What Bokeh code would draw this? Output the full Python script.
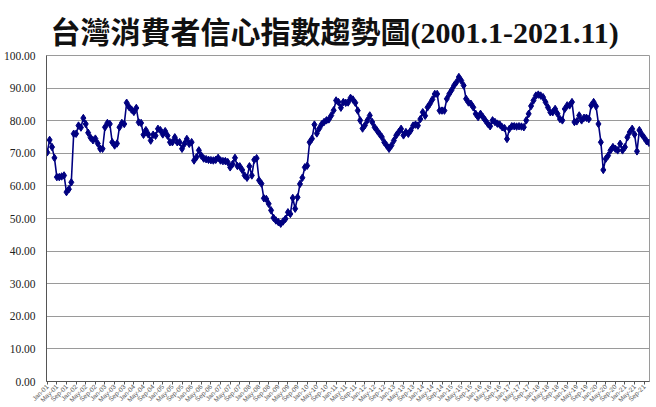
from bokeh.plotting import figure
from bokeh.models import Range1d, FixedTicker, PrintfTickFormatter, ColumnDataSource
from bokeh.embed import file_html
from bokeh.resources import INLINE

title_text = "台灣消費者信心指數趨勢圖(2001.1-2021.11)"

month_abbr = ["Jan", "Feb", "Mar", "Apr", "May", "Jun",
              "Jul", "Aug", "Sep", "Oct", "Nov", "Dec"]
years = list(range(2001, 2022))

cci_2001 = [70.3, 74.1, 71.9, 68.6, 62.7, 62.7, 62.9, 63.2, 58.1, 59.0, 61.1, 76.0]
cci_2002 = [76.0, 78.5, 77.9, 80.8, 79.0, 76.3, 74.8, 74.0, 74.5, 73.0, 71.4, 71.4]
cci_2003 = [78.0, 79.3, 79.0, 73.4, 72.4, 73.0, 78.0, 79.3, 79.0, 85.5, 84.2, 83.4]
cci_2004 = [82.7, 83.9, 79.5, 79.3, 75.7, 77.1, 75.8, 73.9, 75.7, 75.4, 77.5, 77.1]
cci_2005 = [75.8, 76.8, 75.4, 73.4, 73.4, 74.9, 73.4, 73.4, 71.4, 72.9, 74.4, 72.9]
cci_2006 = [73.4, 67.8, 68.8, 70.9, 69.3, 68.4, 68.2, 68.0, 67.9, 67.8, 68.0, 68.6]
cci_2007 = [67.8, 67.6, 67.6, 67.3, 65.7, 66.7, 68.6, 66.1, 66.0, 64.9, 63.2, 62.5]
cci_2008 = [66.0, 63.2, 68.0, 68.5, 61.7, 60.7, 56.2, 56.0, 54.5, 52.5, 50.2, 49.4]
cci_2009 = [48.9, 48.4, 49.1, 49.9, 51.9, 51.4, 56.3, 53.0, 56.5, 60.6, 62.5, 65.7]
cci_2010 = [66.2, 73.4, 74.5, 78.8, 76.1, 77.6, 78.9, 79.6, 80.1, 80.4, 81.6, 83.2]
cci_2011 = [86.2, 85.7, 84.0, 85.7, 85.5, 85.6, 87.0, 86.5, 85.5, 83.1, 80.1, 77.6]
cci_2012 = [78.6, 80.1, 81.6, 79.6, 78.0, 77.0, 76.0, 75.0, 73.4, 72.4, 71.4, 72.4]
cci_2013 = [73.9, 75.5, 76.5, 77.5, 75.5, 76.5, 76.0, 77.0, 78.5, 78.8, 78.5, 80.5]
cci_2014 = [82.6, 81.5, 84.1, 85.2, 86.5, 88.2, 88.2, 83.1, 83.1, 83.1, 86.7, 88.2]
cci_2015 = [89.4, 90.8, 91.8, 93.4, 92.3, 90.8, 86.7, 85.6, 85.2, 84.1, 82.1, 81.1]
cci_2016 = [82.1, 81.1, 80.1, 79.1, 78.3, 80.1, 79.6, 79.1, 78.8, 78.0, 77.7, 74.4]
cci_2017 = [77.5, 78.3, 78.3, 78.2, 78.3, 78.2, 78.0, 80.1, 82.1, 84.5, 86.2, 87.7]
cci_2018 = [88.0, 87.7, 87.2, 85.7, 84.1, 82.6, 82.6, 83.6, 82.1, 80.5, 80.1, 83.6]
cci_2019 = [84.7, 84.7, 85.7, 79.6, 79.8, 81.6, 80.1, 80.9, 80.9, 80.5, 84.7, 85.7]
cci_2020 = [84.4, 79.0, 73.4, 64.9, 68.3, 69.3, 70.9, 71.9, 71.4, 70.9, 72.9, 70.9]
cci_2021 = [71.9, 74.9, 76.5, 77.5, 75.8, 70.6, 77.1, 75.8, 74.8, 73.7, 73.2]

cci = (cci_2001 + cci_2002 + cci_2003 + cci_2004 + cci_2005 + cci_2006 + cci_2007
       + cci_2008 + cci_2009 + cci_2010 + cci_2011 + cci_2012 + cci_2013 + cci_2014
       + cci_2015 + cci_2016 + cci_2017 + cci_2018 + cci_2019 + cci_2020 + cci_2021)

month_labels = [f"{m}-{str(y)[2:]}" for y in years for m in month_abbr][:len(cci)]
x_idx = list(range(len(cci)))
x_label_step = 4
y_ticks = [0, 10, 20, 30, 40, 50, 60, 70, 80, 90, 100]

src = ColumnDataSource(dict(x=x_idx, y=cci, label=month_labels))

p = figure(frame_width=603, frame_height=326,
           output_backend="svg", toolbar_location=None,
           x_range=Range1d(-0.3, len(cci) - 0.8), y_range=Range1d(0, 100),
           min_border_left=33, min_border_right=4, min_border_top=55, min_border_bottom=0,
           background_fill_color="white", border_fill_color="white")

p.title.text = title_text
p.title.align = "left"
p.title.offset = 4
p.title.vertical_align = "top"
p.title.text_line_height = 0.7
p.title.text_font = "Liberation Serif, Noto Sans CJK TC"
p.title.text_font_style = "bold"
p.title.text_font_size = "30px"
p.title.text_color = "#111111"
p.title.standoff = 10

p.line("x", "y", source=src, line_color="#000080", line_width=1.6)
p.scatter("x", "y", source=src, marker="diamond", size=7.5, color="#000080")

# y axis
p.yaxis.ticker = FixedTicker(ticks=y_ticks)
p.yaxis.formatter = PrintfTickFormatter(format="%.2f")
p.yaxis.major_label_text_font = "Liberation Serif"
p.yaxis.major_label_text_font_size = "11.5px"
p.yaxis.major_label_text_color = "#222222"
p.yaxis.major_tick_out = 0
p.yaxis.major_tick_in = 0
p.yaxis.minor_tick_out = 0
p.yaxis.minor_tick_in = 0
p.yaxis.major_label_standoff = 11
p.yaxis.axis_line_color = "#555555"

# x axis
p.xaxis.ticker = FixedTicker(ticks=x_idx[::x_label_step])
p.xaxis.major_label_overrides = {i: month_labels[i] for i in x_idx[::x_label_step]}
p.xaxis.major_label_orientation = 0.785
p.xaxis.major_label_text_font = "Liberation Sans"
p.xaxis.major_label_text_font_size = "6.5px"
p.xaxis.major_label_text_color = "#555555"
p.xaxis.major_tick_out = 3
p.xaxis.major_tick_in = 0
p.xaxis.minor_tick_out = 0
p.xaxis.minor_tick_in = 0
p.xaxis.major_label_standoff = 1
p.xaxis.axis_line_color = "#555555"
p.xaxis.major_tick_line_color = "#555555"

p.xgrid.grid_line_color = None
p.ygrid.grid_line_color = "#9a9a9a"
p.ygrid.grid_line_width = 1
p.outline_line_color = "#9a9a9a"

open("out.html", "w").write(file_html(p, INLINE))
